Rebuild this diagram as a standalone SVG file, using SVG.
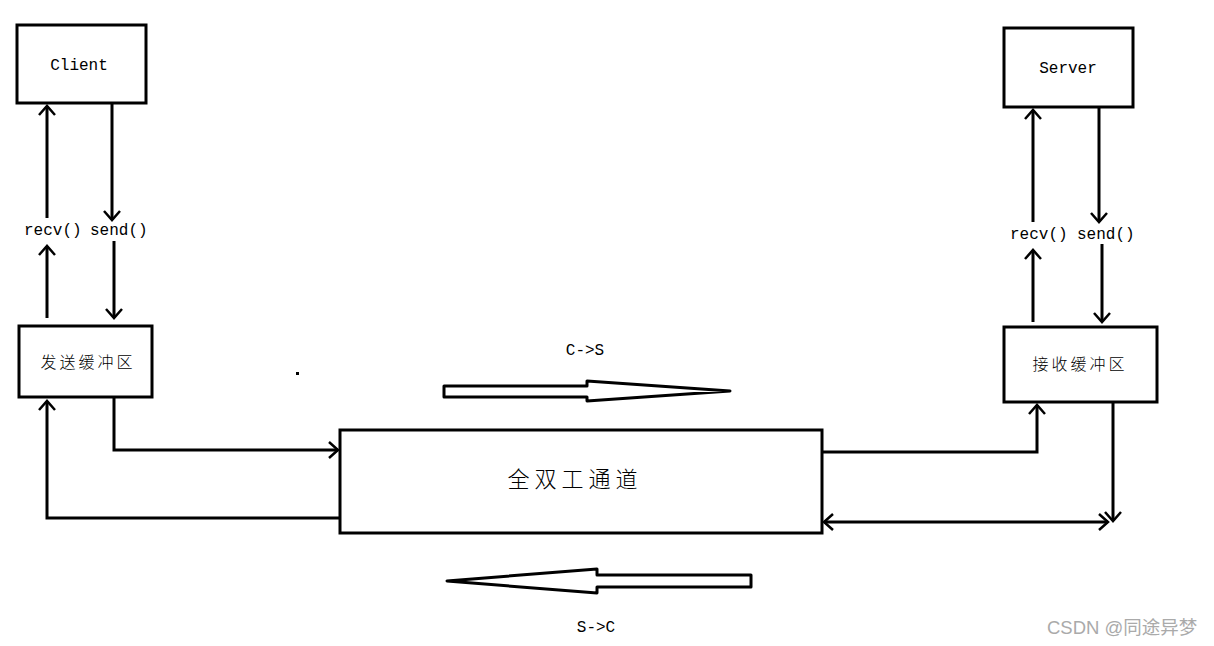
<svg xmlns="http://www.w3.org/2000/svg" width="1214" height="646" viewBox="0 0 1214 646">
<style>
.box{fill:#fff;stroke:#000;stroke-width:3}
.ln{fill:none;stroke:#000;stroke-width:3}
.mono{font-family:"Liberation Mono","DejaVu Sans Mono",monospace;font-size:16px;fill:#000}
.cjk{font-family:"Noto Sans CJK SC","Noto Sans CJK JP",sans-serif;fill:#000;font-weight:300}
.hollow{fill:#fff;stroke:#000;stroke-width:3;stroke-linejoin:round}
</style>
<defs>
<marker id="ah" markerUnits="userSpaceOnUse" markerWidth="24" markerHeight="24" viewBox="0 0 24 24" refX="12" refY="12" orient="auto-start-reverse">
<path d="M3,4 L12,12 L3,20" fill="none" stroke="#000" stroke-width="2.5"/>
</marker>
</defs>
<rect width="1214" height="646" fill="#fff"/>
<g id="client">
<rect class="box" x="17" y="25" width="129" height="78"/>
<text class="mono" x="79" y="70" text-anchor="middle" font-size="17">Client</text>
</g>
<g id="send-buffer">
<rect class="box" x="19" y="326" width="133" height="71"/>
<text class="cjk" x="88" y="368" font-size="16" text-anchor="middle" letter-spacing="3">发送缓冲区</text>
</g>
<g id="channel">
<rect class="box" x="340" y="430" width="482" height="103"/>
<text class="cjk" x="575" y="487" font-size="22" text-anchor="middle" letter-spacing="5">全双工通道</text>
</g>
<g id="server">
<rect class="box" x="1004" y="28" width="129" height="79"/>
<text class="mono" x="1068" y="73" text-anchor="middle" font-size="17">Server</text>
</g>
<g id="recv-buffer">
<rect class="box" x="1004" y="327" width="153" height="75"/>
<text class="cjk" x="1080" y="370" font-size="16" text-anchor="middle" letter-spacing="3">接收缓冲区</text>
</g>
<g id="connectors">
<line class="ln" x1="47" y1="318" x2="47" y2="246" marker-end="url(#ah)"/>
<line class="ln" x1="47" y1="218" x2="47" y2="106" marker-end="url(#ah)"/>
<line class="ln" x1="112" y1="103" x2="112" y2="220" marker-end="url(#ah)"/>
<line class="ln" x1="114" y1="241" x2="114" y2="318" marker-end="url(#ah)"/>
<polyline class="ln" points="340,518 47,518 47,401" marker-end="url(#ah)"/>
<polyline class="ln" points="114,397 114,450 338,450" marker-end="url(#ah)"/>
<polyline class="ln" points="822,452 1037,452 1037,405" marker-end="url(#ah)"/>
<line class="ln" x1="1113" y1="402" x2="1113" y2="521" marker-end="url(#ah)"/>
<line class="ln" x1="824" y1="522" x2="1108" y2="522" marker-start="url(#ah)" marker-end="url(#ah)"/>
<line class="ln" x1="1033" y1="322" x2="1033" y2="250" marker-end="url(#ah)"/>
<line class="ln" x1="1033" y1="222" x2="1033" y2="110" marker-end="url(#ah)"/>
<line class="ln" x1="1099" y1="107" x2="1099" y2="222" marker-end="url(#ah)"/>
<line class="ln" x1="1102" y1="244" x2="1102" y2="322" marker-end="url(#ah)"/>
</g>
<g id="labels">
<text class="mono" x="24" y="235">recv()</text>
<text class="mono" x="90" y="235">send()</text>
<text class="mono" x="1010" y="239">recv()</text>
<text class="mono" x="1077" y="239">send()</text>
</g>
<g id="cs-arrow">
<polygon class="hollow" points="444,386 587,386 587,381 730,391 587,401 587,397 444,397"/>
<text class="mono" x="585" y="355" font-size="15" text-anchor="middle">C-&gt;S</text>
</g>
<g id="sc-arrow">
<polygon class="hollow" points="751,575 597,575 597,569 447,581 597,593 597,587 751,587"/>
<text class="mono" x="596" y="632" font-size="15" text-anchor="middle">S-&gt;C</text>
</g>
<rect x="296" y="372" width="3" height="3" fill="#000"/>
<text x="1047" y="634" font-family="Liberation Sans,'Noto Sans CJK SC',sans-serif" font-size="18.5" fill="#aaa">CSDN @同途异梦</text>
</svg>
